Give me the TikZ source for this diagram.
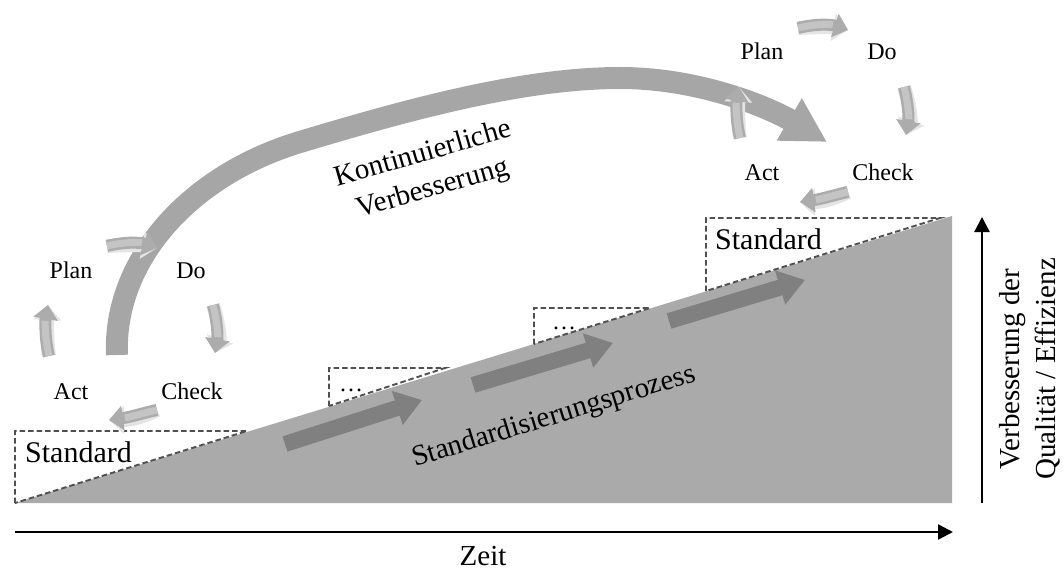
\documentclass[tikz,border=0pt]{standalone}
\usepackage{fontspec}
\setmainfont{Liberation Serif}
\usetikzlibrary{arrows.meta}

\definecolor{wedgegray}{RGB}{170,170,170}
\definecolor{stepgray}{RGB}{128,128,128}
\definecolor{arcgray}{RGB}{166,166,166}
\definecolor{cyclegray}{RGB}{172,172,172}
\definecolor{cyclelight}{RGB}{196,196,196}
\definecolor{shadowgray}{RGB}{228,228,228}
\definecolor{dashgray}{RGB}{80,80,80}

\begin{document}
\begin{tikzpicture}[x=1pt,y=-1pt,
  lbl/.style={font=\fontsize{24}{28}\selectfont, inner sep=0pt, anchor=base},
  stdlbl/.style={font=\fontsize{30}{36}\selectfont, inner sep=0pt, anchor=base west},
  biglbl/.style={font=\fontsize{29}{36}\selectfont, inner sep=0pt},
  dashbox/.style={draw=dashgray, line width=1.9pt, dash pattern=on 5.5pt off 3pt},
  cyclearrow/.style={draw=cyclegray, line width=12pt, -{Triangle[length=14pt,width=24pt]}},
  cyclehighlight/.style={draw=cyclelight, line width=7pt, shorten >=16pt, line cap=butt},
  cycleshadow/.style={draw=shadowgray, line width=14pt, -{Triangle[length=15pt,width=27pt]}},
  steparrow/.style={draw=stepgray, line width=16pt, -{Triangle[length=26pt,width=34pt]}},
  axisarrow/.style={draw=black, line width=2.4pt, -{Triangle[length=15pt,width=15pt]}},
  pdca/.pic={
    % ends of the four cycle arrows
    \coordinate (-pa) at (-24,-84); \coordinate (-pb) at (26,-82);
    \coordinate (-da) at (82,-25);  \coordinate (-db) at (84,23);
    \coordinate (-ca) at (26,80);   \coordinate (-cb) at (-22,90);
    \coordinate (-aa) at (-82,26);  \coordinate (-ab) at (-83,-25);
    % soft shadows
    \begin{scope}[shift={(2,3)}]
      \draw[cycleshadow] (-pa) .. controls (-8,-88) and (8,-88) .. (-pb);
      \draw[cycleshadow] (-da) .. controls (86,-10) and (87,6) .. (-db);
      \draw[cycleshadow] (-ca) .. controls (12,83) and (0,87) .. (-cb);
      \draw[cycleshadow] (-aa) .. controls (-86,10) and (-86,-8) .. (-ab);
    \end{scope}
    % cycle arrows
    \draw[cyclearrow] (-pa) .. controls (-8,-88) and (8,-88) .. (-pb);
    \draw[cyclearrow] (-da) .. controls (86,-10) and (87,6) .. (-db);
    \draw[cyclearrow] (-ca) .. controls (12,83) and (0,87) .. (-cb);
    \draw[cyclearrow] (-aa) .. controls (-86,10) and (-86,-8) .. (-ab);
    % lighter sheen on the arrow bodies
    \draw[cyclehighlight] (-pa) .. controls (-8,-88) and (8,-88) .. (-pb);
    \draw[cyclehighlight] (-da) .. controls (86,-10) and (87,6) .. (-db);
    \draw[cyclehighlight] (-ca) .. controls (12,83) and (0,87) .. (-cb);
    \draw[cyclehighlight] (-aa) .. controls (-86,10) and (-86,-8) .. (-ab);
    % labels
    \node[lbl] (-plan)  at (-60,-52) {Plan};
    \node[lbl] (-do)    at (60,-52)  {Do};
    \node[lbl] (-act)   at (-60,69)  {Act};
    \node[lbl] (-check) at (61,69)   {Check};
  }
]
\useasboundingbox (0,0) rectangle (1064,569);

% rising wedge of the standardisation
\coordinate (w0) at (15,503);
\coordinate (w1) at (952,216);
\coordinate (w2) at (952,503);
\fill[wedgegray] (w0) -- (w1) -- (w2) -- cycle;

% dashed standard steps
\draw[dashbox] (15,503) -- (15,431) -- (247,431) -- cycle;
\draw[dashbox] (329,406) -- (329,368) -- (445,368) -- cycle;
\draw[dashbox] (534,344) -- (534,308) -- (650,308) -- cycle;
\draw[dashbox] (706,291) -- (706,218) -- (940,218) -- cycle;

\node[stdlbl] (std1) at (25,462) {Standard};
\node[stdlbl] (std2) at (715,249) {Standard};
\node[lbl] (dots1) at (351,391) {\ldots};
\node[lbl] (dots2) at (564,329) {\ldots};

% steps along the wedge
\coordinate (s1a) at (285,444); \coordinate (s1b) at (422,400);
\coordinate (s2a) at (473,385); \coordinate (s2b) at (613,343);
\coordinate (s3a) at (669,321); \coordinate (s3b) at (805,280);
\draw[steparrow] (s1a) -- (s1b);
\draw[steparrow] (s2a) -- (s2b);
\draw[steparrow] (s3a) -- (s3b);

\node[biglbl, rotate=17, anchor=base west] (proc) at (415,467) {Standardisierungsprozess};

% continuous improvement arc
\coordinate (a0) at (117,355);
\coordinate (a1) at (300,142);
\coordinate (a2) at (620,78);
\coordinate (a3) at (827,142);
\draw[draw=arcgray, line width=22pt, -{Triangle[length=44pt,width=46pt]}]
  (a0) .. controls (113,260) and (190,175) .. (a1)
       .. controls (400,112) and (520,78) .. (a2)
       .. controls (700,78) and (770,108) .. (a3);
\node[biglbl, rotate=16, align=center] (kvp) at (428,172) {Kontinuierliche\\Verbesserung};

% PDCA cycles
\pic (L) at (131,330) {pdca};
\pic (T) at (822,112) {pdca};

% axes
\coordinate (t0) at (15,532);  \coordinate (t1) at (953,532);
\coordinate (q0) at (982,503); \coordinate (q1) at (982,217);
\draw[axisarrow] (t0) -- (t1);
\draw[axisarrow] (q0) -- (q1);
\node[biglbl, anchor=base] (zeit) at (483,565) {Zeit};
\node[biglbl, rotate=90, align=center] (qual) at (1030,369) {Verbesserung der\\Qualität / Effizienz};
\end{tikzpicture}
\end{document}
